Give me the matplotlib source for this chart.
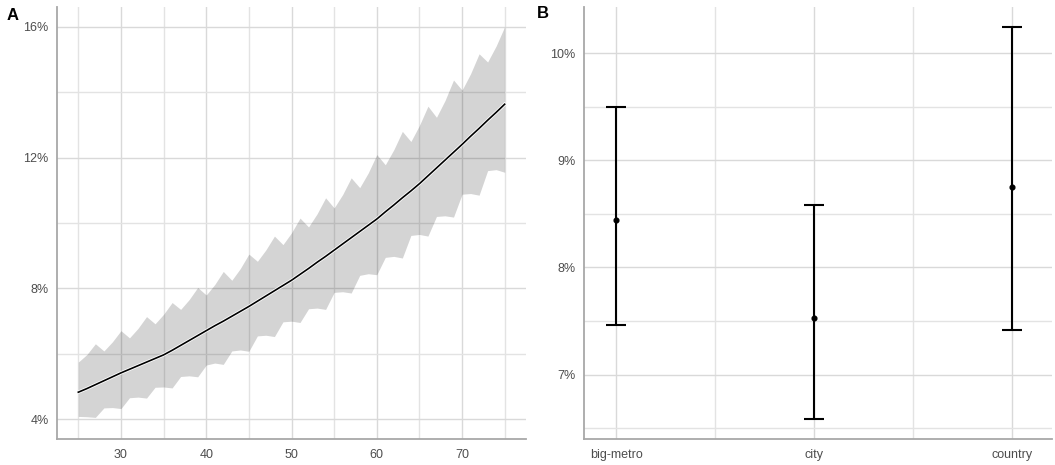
import matplotlib
matplotlib.use("Agg")
import matplotlib.pyplot as plt
import matplotlib.patheffects as pe
from matplotlib.ticker import FixedLocator, FuncFormatter

plt.rcParams['font.family'] = ['Liberation Sans', 'DejaVu Sans']

# ---- Panel A data (age vs. predicted %) ----
ages = list(range(25, 76))
fit = [4.83, 4.94, 5.06, 5.18, 5.30, 5.42,
       5.53, 5.64, 5.75, 5.86, 5.97,
       6.11, 6.26, 6.41, 6.56, 6.71,
       6.86, 7.00, 7.15, 7.30, 7.45,
       7.61, 7.77, 7.93, 8.09, 8.25,
       8.43, 8.61, 8.80, 8.98, 9.17,
       9.36, 9.55, 9.74, 9.93, 10.12,
       10.34, 10.55, 10.77, 10.98, 11.20,
       11.44, 11.68, 11.92, 12.16, 12.40,
       12.65, 12.89, 13.14, 13.38, 13.63]
upper = [5.75, 5.98, 6.31,
         6.09, 6.37, 6.71,
         6.49, 6.78, 7.14,
         6.92, 7.21, 7.57,
         7.36, 7.66, 8.03,
         7.80, 8.12, 8.52,
         8.25, 8.61, 9.05,
         8.83, 9.18, 9.60,
         9.34, 9.70, 10.15,
         9.88, 10.28, 10.77,
         10.46, 10.87, 11.38,
         11.08, 11.53, 12.09,
         11.78, 12.24, 12.80,
         12.49, 12.98, 13.57,
         13.23, 13.74, 14.37,
         14.06, 14.56, 15.17,
         14.92, 15.41, 16.00]
lower = [4.09, 4.08, 4.06,
         4.35, 4.36, 4.33,
         4.66, 4.68, 4.65,
         4.98, 4.99, 4.96,
         5.31, 5.33, 5.30,
         5.66, 5.72, 5.68,
         6.09, 6.12, 6.08,
         6.55, 6.57, 6.53,
         6.98, 7.00, 6.96,
         7.38, 7.40, 7.36,
         7.88, 7.90, 7.86,
         8.40, 8.45, 8.42,
         8.95, 8.98, 8.93,
         9.62, 9.65, 9.60,
         10.20, 10.22, 10.18,
         10.88, 10.90, 10.85,
         11.60, 11.63, 11.55]
a_yticks = [4, 8, 12, 16]
a_xticks = [30, 40, 50, 60, 70]

# ---- Panel B data (area type) ----
areas = ["big-metro", "city", "country"]
est = [8.44, 7.53, 8.75]
ci_low = [7.46, 6.59, 7.42]
ci_high = [9.50, 8.58, 10.24]
b_yticks = [7, 8, 9, 10]

W, H = 1055, 465
fig = plt.figure(figsize=(W / 100, H / 100), dpi=100)

grid_major = '#d9d9d9'
grid_minor = '#e3e3e3'
spine_col = '#a8a8a8'
tick_col = '#4d4d4d'

def px_axes(l, r, t, b):
    return fig.add_axes([l / W, 1 - b / H, (r - l) / W, (b - t) / H])

def style(ax):
    for s in ['top', 'right']:
        ax.spines[s].set_visible(False)
    for s in ['left', 'bottom']:
        ax.spines[s].set_color(spine_col)
        ax.spines[s].set_linewidth(1.3)
    ax.tick_params(which='both', length=0, labelsize=9, labelcolor=tick_col)
    ax.tick_params(axis='y', pad=6)
    ax.tick_params(axis='x', pad=7)
    ax.grid(True, which='major', color=grid_major, linewidth=1.0, zorder=0)
    ax.grid(True, which='minor', color=grid_minor, linewidth=1.0, zorder=0)
    ax.set_axisbelow(True)

pct = FuncFormatter(lambda v, p: f"{v:g}%")

# Panel A
axA = px_axes(57, 526, 7, 439)
axA.fill_between(ages, lower, upper, color='black', alpha=0.17, linewidth=0, zorder=2)
axA.plot(ages, fit, color='black', linewidth=1.2, zorder=3,
         path_effects=[pe.Stroke(linewidth=2.4, foreground='white'), pe.Normal()])
axA.set_xlim(22.5, 77.5)
axA.set_ylim(3.4, 16.6)
axA.xaxis.set_major_locator(FixedLocator(a_xticks))
axA.xaxis.set_minor_locator(FixedLocator([25, 35, 45, 55, 65, 75]))
axA.yaxis.set_major_locator(FixedLocator(a_yticks))
axA.yaxis.set_minor_locator(FixedLocator([6, 10, 14]))
axA.yaxis.set_major_formatter(pct)
style(axA)

# Panel B
axB = px_axes(584, 1052, 7, 439)
xpos = [1, 2, 3]
yerr = [[e - l for e, l in zip(est, ci_low)], [h - e for e, h in zip(est, ci_high)]]
axB.errorbar(xpos, est, yerr=yerr, fmt='o', color='black', markersize=3.4,
             elinewidth=1.5, capsize=7.0, capthick=1.5, zorder=3)
axB.set_xlim(0.838, 3.2)
axB.set_ylim(6.40, 10.43)
axB.xaxis.set_major_locator(FixedLocator(xpos))
axB.xaxis.set_minor_locator(FixedLocator([1.5, 2.5]))
axB.set_xticklabels(areas)
axB.yaxis.set_major_locator(FixedLocator(b_yticks))
axB.yaxis.set_minor_locator(FixedLocator([6.5, 7.5, 8.5, 9.5]))
axB.yaxis.set_major_formatter(pct)
style(axB)

fig.text(13 / W, 1 - 15 / H, "A", fontsize=12, fontweight='bold', ha='center', va='center')
fig.text(543 / W, 1 - 14 / H, "B", fontsize=12, fontweight='bold', ha='center', va='center')

fig.savefig("out.png", dpi=100)
